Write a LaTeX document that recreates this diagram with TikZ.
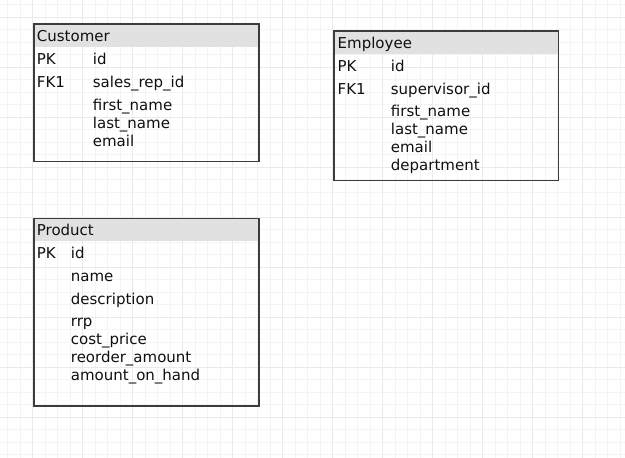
\documentclass[tikz,border=0pt]{standalone}
\usepackage{fontspec}
\setmainfont{DejaVu Sans}
\definecolor{minorgrid}{HTML}{F4F4F4}
\definecolor{majorgrid}{HTML}{EAEAEA}
\definecolor{hdrfill}{HTML}{E1E1E1}
\definecolor{bordercol}{HTML}{3C3C3C}
\definecolor{txtcol}{HTML}{101010}
\begin{document}
\begin{tikzpicture}[x=1pt,y=-1pt,
  minorline/.style={draw=minorgrid,line width=1pt},
  majorline/.style={draw=majorgrid,line width=1.2pt},
  tablebox/.style={draw=bordercol,line width=1.5pt,fill=none,inner sep=0pt,anchor=north west},
  headbox/.style={fill=hdrfill,draw=none,inner sep=0pt,anchor=north west},
  cell/.style={anchor=base west,inner sep=0pt,text=txtcol,font=\fontsize{15}{18}\selectfont}]
\useasboundingbox (0,0) rectangle (625,458);
\fill[white] (0,0) rectangle (625,458);
% grid
\foreach \k in {0,...,49} \draw[minorline] ({7.7+12.5*\k},0) -- ++(0,458);
\foreach \k in {0,...,36} \draw[minorline] (0,{4.8+12.5*\k}) -- ++(625,0);
\foreach \k in {0,...,11} \draw[majorline] ({32.7+50*\k},0) -- ++(0,458);
\foreach \k in {0,...,8} \draw[majorline] (0,{17.3+50*\k}) -- ++(625,0);

% Customer
\node[headbox,minimum width=225pt,minimum height=24pt] (custh) at (33,23) {};
\node[tablebox,minimum width=225pt,minimum height=137.5pt] (cust) at (33,23) {};
\node[cell] (custt) at (36.7,41.7) {Customer};
\node[cell] (custpk) at (36.7,64.5) {PK};
\node[cell] (custid) at (92.7,64.5) {id};
\node[cell] (custfk) at (36.7,87.7) {FK1};
\node[cell] (custsr) at (92.7,87.7) {sales\_rep\_id};
\node[cell] (custfn) at (92.7,110.2) {first\_name};
\node[cell] (custln) at (92.7,128.4) {last\_name};
\node[cell] (custem) at (92.7,146.6) {email};

% Employee
\node[headbox,minimum width=224.5pt,minimum height=23.5pt] (emph) at (333.3,30) {};
\node[tablebox,minimum width=224.5pt,minimum height=149.5pt] (emp) at (333.3,30) {};
\node[cell] (empt) at (337.5,48.3) {Employee};
\node[cell] (emppk) at (337.5,71) {PK};
\node[cell] (empid) at (390.7,71) {id};
\node[cell] (empfk) at (337.5,94) {FK1};
\node[cell] (empsv) at (390.7,94) {supervisor\_id};
\node[cell] (empfn) at (390.7,116.7) {first\_name};
\node[cell] (empln) at (390.7,134.8) {last\_name};
\node[cell] (empem) at (390.7,152.8) {email};
\node[cell] (empdp) at (390.7,170.8) {department};

% Product
\node[headbox,minimum width=225pt,minimum height=23pt] (prodh) at (33,217.7) {};
\node[tablebox,minimum width=225pt,minimum height=187.3pt] (prod) at (33,217.7) {};
\node[cell] (prodt) at (36.7,235) {Product};
\node[cell] (prodpk) at (36.7,258.3) {PK};
\node[cell] (prodid) at (70.7,258.3) {id};
\node[cell] (prodnm) at (70.7,281) {name};
\node[cell] (prodds) at (70.7,304) {description};
\node[cell] (prodrr) at (70.7,326.7) {rrp};
\node[cell] (prodcp) at (70.7,344.5) {cost\_price};
\node[cell] (prodra) at (70.7,362.5) {reorder\_amount};
\node[cell] (prodah) at (70.7,380.7) {amount\_on\_hand};
\end{tikzpicture}
\end{document}
